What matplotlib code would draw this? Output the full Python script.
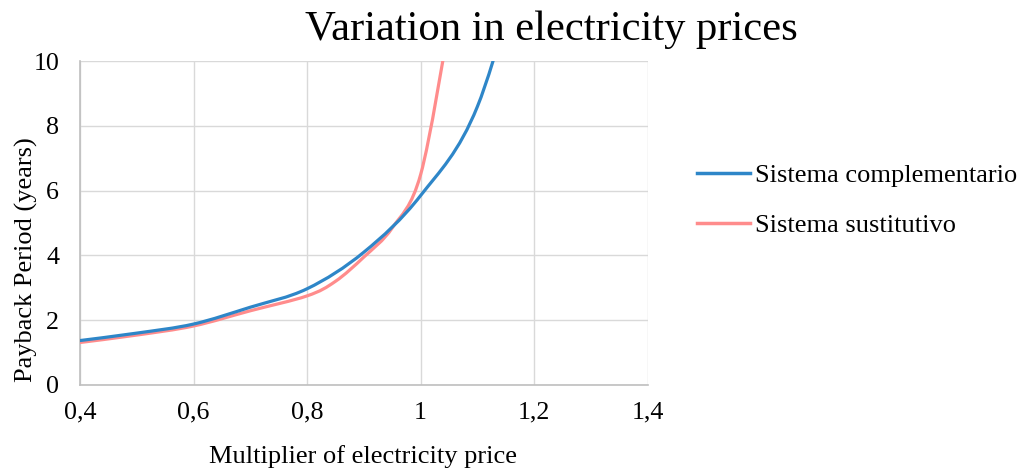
import numpy as np
import matplotlib
matplotlib.use("Agg")
import matplotlib.pyplot as plt
from matplotlib.path import Path
from matplotlib.patches import PathPatch
from matplotlib.lines import Line2D

# payback period (years) against electricity price multiplier
multiplier_comp = [0.4, 0.5, 0.6, 0.7, 0.8, 0.9, 1.0, 1.1, 1.2]
payback_comp = [1.37, 1.6, 1.88, 2.4, 2.97, 4.1, 5.85, 8.6, 14.5]

multiplier_sust = [0.4, 0.5, 0.6, 0.7, 0.8, 0.85, 0.9, 0.95, 1.0, 1.05]
payback_sust = [1.31, 1.54, 1.82, 2.29, 2.75, 3.2, 3.95, 4.85, 6.5, 11.1]

x_ticks = [0.4, 0.6, 0.8, 1.0, 1.2, 1.4]
x_ticklabels = ["0,4", "0,6", "0,8", "1", "1,2", "1,4"]
y_ticks = [0, 2, 4, 6, 8, 10]

blue = "#2E86C8"
pink = "#FF8C8C"

plt.rcParams["font.family"] = ["Liberation Serif", "DejaVu Serif"]


def smooth_path(xs, ys):
    # Catmull-Rom style bezier through the points, like a spreadsheet "smoothed line"
    pts = np.column_stack([xs, ys])
    verts = [pts[0]]
    codes = [Path.MOVETO]
    n = len(pts)
    for i in range(n - 1):
        p0 = pts[max(i - 1, 0)]
        p1 = pts[i]
        p2 = pts[i + 1]
        p3 = pts[min(i + 2, n - 1)]
        c1 = p1 + (p2 - p0) / 6.0
        c2 = p2 - (p3 - p1) / 6.0
        verts += [c1, c2, p2]
        codes += [Path.CURVE4] * 3
    return Path(verts, codes)


fig = plt.figure(figsize=(10.25, 4.7), dpi=100)
ax = fig.add_axes([0.078, 0.181, 0.554, 0.689])

ax.add_patch(PathPatch(smooth_path(multiplier_sust, payback_sust), fill=False,
                       edgecolor=pink, lw=2.3, capstyle="round", zorder=3))
ax.add_patch(PathPatch(smooth_path(multiplier_comp, payback_comp), fill=False,
                       edgecolor=blue, lw=2.3, capstyle="round", zorder=4))

ax.set_xlim(0.4, 1.4)
ax.set_ylim(0, 10)
ax.set_xticks(x_ticks)
ax.set_xticklabels(x_ticklabels)
ax.set_yticks(y_ticks)
ax.grid(True, color="#D9D9D9", lw=1.0)
ax.set_axisbelow(True)
ax.tick_params(length=0, labelsize=18.7)
ax.tick_params(axis="x", pad=12)
ax.tick_params(axis="y", pad=15)

for side in ["top", "right"]:
    ax.spines[side].set_visible(False)
for side in ["left", "bottom"]:
    ax.spines[side].set_color("#BFBFBF")
    ax.spines[side].set_linewidth(1.2)

ax.set_xlabel("Multiplier of electricity price", fontsize=19, va="center")
ax.xaxis.set_label_coords(0.498, -0.221)
ax.set_ylabel("Payback Period (years)", fontsize=19, va="center")
ax.yaxis.set_label_coords(-0.095, 0.386)

fig.text(0.538, 0.936, "Variation in electricity prices", fontsize=30.7,
         ha="center", va="center")

handles = [Line2D([], [], color=blue, lw=2.5),
           Line2D([], [], color=pink, lw=2.5)]
fig.legend(handles, ["Sistema complementario", "Sistema sustitutivo"],
           loc="center left", bbox_to_anchor=(0.68, 0.574), frameon=False,
           fontsize=19, handlelength=2.0, handletextpad=0.2, labelspacing=1.0,
           borderpad=0, borderaxespad=0)

fig.savefig("out.png", dpi=100)
